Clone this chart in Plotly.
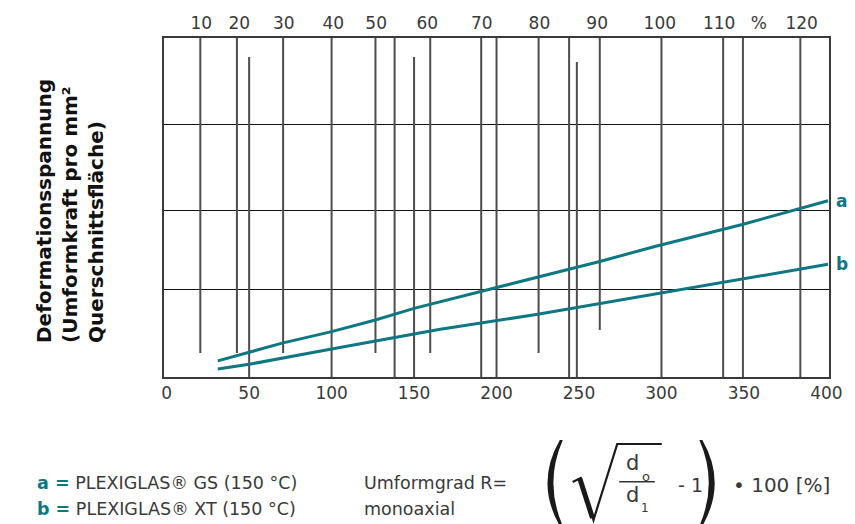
import plotly.graph_objects as go

# ---------------- data ----------------
x_a = [31, 50, 70, 100, 126, 150, 195, 225, 249, 262, 296, 349, 401]
y_a = [0.19, 0.29, 0.40, 0.535, 0.67, 0.81, 1.03, 1.18, 1.29, 1.36, 1.54, 1.80, 2.08]
x_b = [31, 50, 100, 126, 150, 165, 225, 249, 296, 349, 401]
y_b = [0.095, 0.15, 0.33, 0.42, 0.50, 0.56, 0.74, 0.82, 0.98, 1.16, 1.33]

bottom_ticks = [0, 50, 100, 150, 200, 250, 300, 350, 400]
bottom_labels = ["0", "50", "100", "150", "200", "250", "300", "350", "400"]

top_ticks = [21, 44, 71, 101, 127, 158, 191, 226, 261, 299, 335, 359, 385]
top_labels = ["10", "20", "30", "40", "50", "60", "70", "80", "90", "100", "110", "%", "120"]

# vertical guide lines: x position, lower end, upper end
vline_x = [20.4, 42.6, 50, 70.6, 100, 126.6, 138.2, 150, 159.8, 190.7, 200,
           225.5, 244, 248.7, 262.6, 300, 337.4, 349.4, 384.2]
vline_lo = [0.283, 0.283, 0, 0.283, 0, 0.283, 0, 0, 0.283, 0, 0,
            0.283, 0, 0, 0.555, 0, 0, 0, 0]
vline_hi = [4, 4, 3.776, 4, 4, 4, 4, 3.776, 4, 4, 4,
            4, 4, 3.717, 4, 4, 4, 4, 4]

# horizontal guide lines
hline_y = [1.027, 1.97, 2.985]

# ---------------- style ----------------
TEAL = "#0e7782"
TXT = "#3a3a3a"
FONT = "DejaVu Sans"
W, H = 855, 524
L, R, T, B = 164, 19, 38, 147
PW, PH = W - L - R, H - T - B


def px(xpix):
    return (xpix - L) / PW


def py(ypix):
    return (H - B - ypix) / PH


fig = go.Figure()

fig.add_trace(go.Scatter(x=x_a, y=y_a, mode="lines", line=dict(color=TEAL, width=3),
                         showlegend=False, hoverinfo="skip"))
fig.add_trace(go.Scatter(x=x_b, y=y_b, mode="lines", line=dict(color=TEAL, width=3),
                         showlegend=False, hoverinfo="skip"))
# invisible trace to activate top axis
fig.add_trace(go.Scatter(x=[top_ticks[0]], y=[0], xaxis="x2", mode="markers",
                         marker=dict(opacity=0), showlegend=False, hoverinfo="skip"))

shapes = []
for xv, lo, hi in zip(vline_x, vline_lo, vline_hi):
    shapes.append(dict(type="line", xref="x", yref="y", x0=xv, x1=xv, y0=lo, y1=hi,
                       line=dict(color="#4d4d4d", width=2), layer="between"))


def path(cmds, close=True):
    s = ""
    for cmd, pts in cmds:
        s += cmd + " ".join(f"{px(a):.5f},{py(b):.5f}" for a, b in pts) + " "
    if close:
        s += "Z"
    return s


# formula decorations (parentheses, radical, fraction bar)
lp = path([("M", [(564, 440)]), ("Q", [(539, 483), (564, 526)]),
           ("L", [(567, 526)]), ("Q", [(548, 483), (567, 440)])])
rp = path([("M", [(708, 440)]), ("Q", [(733, 483), (708, 526)]),
           ("L", [(705, 526)]), ("Q", [(724, 483), (705, 440)])])
shapes.append(dict(type="path", xref="paper", yref="paper", path=lp,
                   fillcolor="#1a1a1a", line=dict(width=0)))
shapes.append(dict(type="path", xref="paper", yref="paper", path=rp,
                   fillcolor="#1a1a1a", line=dict(width=0)))
rad_thin = path([("M", [(577, 482)]), ("L", [(585, 478)]), ("L", [(598, 520)]),
                 ("L", [(622, 444)]), ("L", [(667, 444)])], close=False)
shapes.append(dict(type="path", xref="paper", yref="paper", path=rad_thin,
                   line=dict(color="#1a1a1a", width=2.2)))
rad_thick = path([("M", [(584, 478)]), ("L", [(597, 518)])], close=False)
shapes.append(dict(type="path", xref="paper", yref="paper", path=rad_thick,
                   line=dict(color="#1a1a1a", width=5)))
shapes.append(dict(type="line", xref="paper", yref="paper", x0=px(624), x1=px(660),
                   y0=py(481.7), y1=py(481.7), line=dict(color="#333", width=1.5)))

annotations = []
# end labels
annotations.append(dict(x=x_a[-1], y=y_a[-1], xref="x", yref="y", text="<b>a</b>",
                        showarrow=False, xanchor="left", xshift=6,
                        font=dict(family=FONT, size=17, color=TEAL)))
annotations.append(dict(x=x_b[-1], y=y_b[-1], xref="x", yref="y", text="<b>b</b>",
                        showarrow=False, xanchor="left", xshift=6,
                        font=dict(family=FONT, size=17, color=TEAL)))
# y title
annotations.append(dict(x=px(69), y=py(211), xref="paper", yref="paper",
                        text="<b>Deformationsspannung<br>(Umformkraft pro mm²<br>Querschnittsfläche)</b>",
                        textangle=-90, align="left", showarrow=False,
                        xanchor="center", yanchor="middle",
                        font=dict(family=FONT, size=20, color="#111"),
                        ))
# legend texts
LEG = 17.5
annotations.append(dict(x=px(34), y=py(483), xref="paper", yref="paper", xanchor="left",
                        yanchor="middle", showarrow=False,
                        text=f"<b><span style='color:{TEAL}'>a =</span></b> PLEXIGLAS® GS (150 °C)",
                        font=dict(family=FONT, size=LEG, color=TXT)))
annotations.append(dict(x=px(34), y=py(509), xref="paper", yref="paper", xanchor="left",
                        yanchor="middle", showarrow=False,
                        text=f"<b><span style='color:{TEAL}'>b =</span></b> PLEXIGLAS® XT (150 °C)",
                        font=dict(family=FONT, size=LEG, color=TXT)))
annotations.append(dict(x=px(364), y=py(483), xref="paper", yref="paper", xanchor="left",
                        yanchor="middle", showarrow=False, text="Umformgrad R=",
                        font=dict(family=FONT, size=LEG, color=TXT)))
annotations.append(dict(x=px(364), y=py(509), xref="paper", yref="paper", xanchor="left",
                        yanchor="middle", showarrow=False, text="monoaxial",
                        font=dict(family=FONT, size=LEG, color=TXT)))


# formula texts
def txt(xc, yc, t, size, anchor="center"):
    annotations.append(dict(x=px(xc), y=py(yc), xref="paper", yref="paper", xanchor=anchor,
                            yanchor="middle", showarrow=False, text=t,
                            font=dict(family=FONT, size=size, color=TXT)))


txt(637.5, 463, "d", 21)
txt(651.5, 476, "o", 13)
txt(637.5, 495, "d", 21)
txt(650, 508, "1", 12)
txt(696, 485, "- 1", 19)
txt(737, 485, "• 100 [%]", 20, anchor="left")

fig.update_layout(
    width=W, height=H,
    margin=dict(l=L, r=R, t=T, b=B, pad=0),
    paper_bgcolor="white", plot_bgcolor="white",
    shapes=shapes, annotations=annotations,
    xaxis=dict(range=[-1.62, 401.58], tickvals=bottom_ticks, ticktext=bottom_labels,
               showgrid=False, zeroline=False, showline=True, mirror=True,
               linecolor="#3a3a3a", linewidth=1.5, ticks="",
               tickfont=dict(family=FONT, size=17, color=TXT)),
    xaxis2=dict(range=[-1.62, 401.58], overlaying="x", side="top", tickvals=top_ticks,
                ticktext=top_labels, showgrid=False, zeroline=False, showline=False,
                ticks="", ticklabelstandoff=5,
                tickfont=dict(family=FONT, size=17, color=TXT)),
    yaxis=dict(range=[0, 4], tickvals=hline_y, showticklabels=False, showgrid=True,
               gridcolor="#111111", gridwidth=1.3, zeroline=False, showline=True,
               mirror=True, linecolor="#3a3a3a", linewidth=1.5, ticks=""),
    font=dict(family=FONT, color=TXT),
)

fig.write_html("out.html", config={"displayModeBar": False},
               post_script="document.body.style.margin='0';document.body.style.padding='0';")
